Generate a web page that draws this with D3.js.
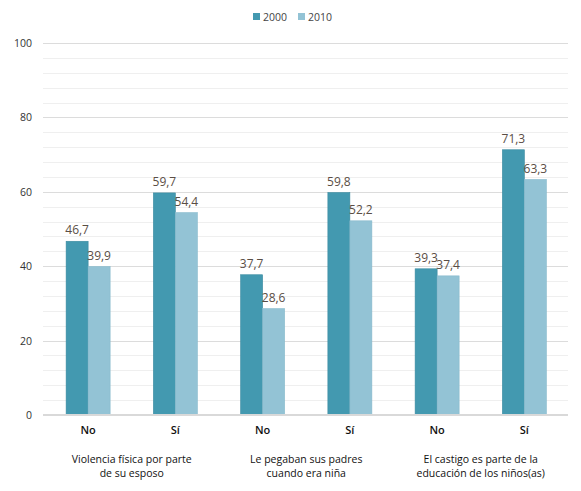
<!DOCTYPE html>
<html><head><meta charset="utf-8">
<script src="https://cdn.jsdelivr.net/npm/d3@7"></script>
<style>body{margin:0;background:#fff;} text{font-family:"Open Sans",Lato,sans-serif;}</style>
</head><body><svg id="c" width="581" height="491"></svg>
<script>
const categories = ["No","Sí","No","Sí","No","Sí"];
const groups = [["Violencia física por parte","de su esposo"],["Le pegaban sus padres","cuando era niña"],["El castigo es parte de la","educación de los niños(as)"]];
const series = ["2000","2010"];
const values2000 = [46.7,59.7,37.7,59.8,39.3,71.3];
const values2010 = [39.9,54.4,28.6,52.2,37.4,63.3];
const yTicks = [0,20,40,60,80,100];
const colors = ["#4399b0","#93c3d5"];

const svg = d3.select("#c");
const x = d3.scaleBand().domain(d3.range(6)).range([44.5,568]);
const xs = d3.scaleBand().domain(series).range([0,44]);
const y = d3.scaleLinear().domain([0,100]).range([415,43]);

svg.append("g").selectAll("line").data(d3.range(0,101,4).filter(v=>v%20!==0)).join("line")
  .attr("x1",43).attr("x2",568).attr("y1",d=>Math.round(y(d))+0.5).attr("y2",d=>Math.round(y(d))+0.5)
  .attr("stroke","#efefef");
svg.append("g").selectAll("line").data(yTicks.filter(d=>d>0)).join("line")
  .attr("x1",43).attr("x2",568).attr("y1",d=>Math.round(y(d))+0.5).attr("y2",d=>Math.round(y(d))+0.5)
  .attr("stroke","#dcdcdc");
svg.append("g").selectAll("text").data(yTicks).join("text")
  .attr("x",32).attr("y",d=>y(d)+4).attr("text-anchor","end").attr("font-size",10.5).attr("fill","#333")
  .text(d=>d);

const data = [];
categories.forEach((c,i)=>{data.push({i,s:"2000",v:values2000[i]});data.push({i,s:"2010",v:values2010[i]});});
const bx = d=>x(d.i)+x.bandwidth()/2-22+xs(d.s);
svg.append("g").selectAll("rect").data(data).join("rect")
  .attr("x",bx).attr("width",xs.bandwidth())
  .attr("y",d=>y(d.v)).attr("height",d=>y(0)-y(d.v))
  .attr("fill",(d)=>colors[series.indexOf(d.s)])
  .attr("stroke",d=>d.s==="2000"?"#3a8aa0":"#86b9cc").attr("stroke-width",0.6);
svg.append("g").selectAll("text").data(data).join("text")
  .attr("x",d=>bx(d)+xs.bandwidth()/2).attr("y",d=>y(d.v)-7).attr("text-anchor","middle")
  .attr("font-size",12).attr("fill","#5a4e45").text(d=>d3.format(".1f")(d.v).replace(".",","));

svg.append("line").attr("x1",43).attr("x2",568).attr("y1",y(0)).attr("y2",y(0)).attr("stroke","#d9d9d9").attr("stroke-width",2);

svg.append("g").selectAll("text").data(categories).join("text")
  .attr("x",(d,i)=>x(i)+x.bandwidth()/2).attr("y",434).attr("text-anchor","middle")
  .attr("font-size",11).attr("font-weight",600).attr("fill","#111").text(d=>d);
groups.forEach((g,k)=>{
  const cx = (x(2*k)+x(2*k+1)+x.bandwidth())/2;
  g.forEach((line,j)=>svg.append("text").attr("x",cx).attr("y",463+j*14).attr("text-anchor","middle")
    .attr("font-size",10.5).attr("fill","#111").text(line));
});

const leg = svg.append("g");
series.forEach((s,i)=>{
  const lx = 253+i*45;
  leg.append("rect").attr("x",lx).attr("y",13).attr("width",7).attr("height",7).attr("fill",colors[i]);
  leg.append("text").attr("x",lx+10).attr("y",20.5).attr("font-size",10.5).attr("fill","#444").text(s);
});
</script></body></html>
